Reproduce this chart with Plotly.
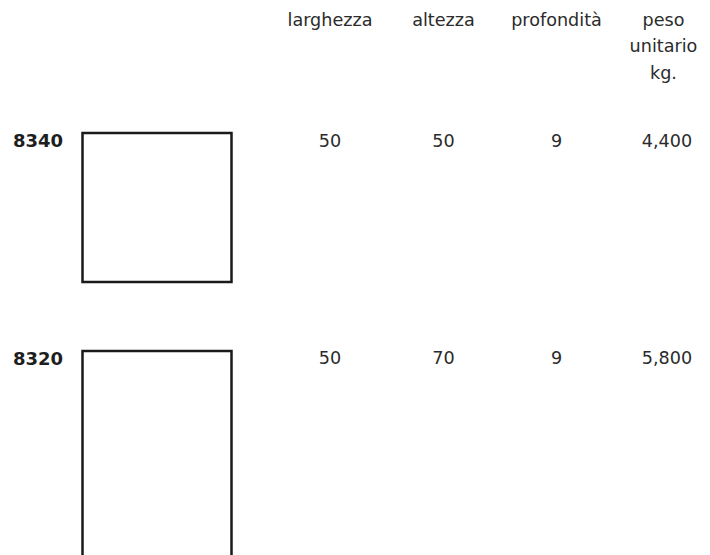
import plotly.graph_objects as go

# ---- data ----
codes = ["8340", "8320"]
larghezza = [50, 50]
altezza = [50, 70]
profondita = [9, 9]
peso_kg = [4.4, 5.8]
headers = ["larghezza", "altezza", "profondità", "peso unitario kg."]

# ---- layout constants (pixels) ----
W, H = 710, 555
BODY = 8  # default page margin of the html body
COL_X = [330, 443.5, 556.5, 667]
HEAD_X = [330, 443.5, 556.5, 663.5]
HEAD_Y0 = 21.5
HEAD_DY = 26.5
ROW_Y = [142.5, 360]
LABEL_X = 38
RECT_X0 = 82.5
RECT_TOP = [133, 351]
SCALE = 2.98  # px per cm
TXT = "#2b2b2b"
FONT = "DejaVu Sans"

fig = go.Figure()

# header texts (multi-word last header stacked on lines)
hx, hy, ht = [], [], []
for i, h in enumerate(headers):
    lines = [h] if i < 3 else h.split(" ")
    for j, ln in enumerate(lines):
        hx.append(HEAD_X[i])
        hy.append(HEAD_Y0 + j * HEAD_DY)
        ht.append(ln)
fig.add_trace(go.Scatter(x=hx, y=hy, text=ht, mode="text",
                         textposition="middle center",
                         textfont=dict(family=FONT, size=17.6, color=TXT),
                         hoverinfo="skip", showlegend=False))

# value texts
def fmt_peso(v):
    return f"{v:.3f}".replace(".", ",")

vx, vy, vt = [], [], []
for r in range(len(codes)):
    vals = [str(larghezza[r]), str(altezza[r]), str(profondita[r]), fmt_peso(peso_kg[r])]
    for c, v in enumerate(vals):
        vx.append(COL_X[c])
        vy.append(ROW_Y[r])
        vt.append(v)
fig.add_trace(go.Scatter(x=vx, y=vy, text=vt, mode="text",
                         textposition="middle center",
                         textfont=dict(family=FONT, size=17.6, color=TXT),
                         hoverinfo="skip", showlegend=False))

# code labels
fig.add_trace(go.Scatter(x=[LABEL_X] * len(codes), y=ROW_Y[:len(codes)], text=codes,
                         mode="text", textposition="middle center",
                         textfont=dict(family=FONT, size=18, color="#1e1e1e", weight="bold"),
                         hoverinfo="skip", showlegend=False))

# rectangles drawn to scale
for r in range(len(codes)):
    fig.add_shape(type="rect", xref="x", yref="y",
                  x0=RECT_X0, x1=RECT_X0 + larghezza[r] * SCALE,
                  y0=RECT_TOP[r], y1=RECT_TOP[r] + altezza[r] * SCALE,
                  line=dict(color="#1a1a1a", width=2.5),
                  fillcolor="rgba(0,0,0,0)")

fig.update_layout(
    width=W, height=H, autosize=False,
    margin=dict(l=0, r=0, t=0, b=0),
    paper_bgcolor="white", plot_bgcolor="white",
    xaxis=dict(range=[BODY, W + BODY], visible=False, fixedrange=True),
    yaxis=dict(range=[H + BODY, BODY], visible=False, fixedrange=True),
    showlegend=False,
)

fig.write_html("out.html", config={"displayModeBar": False})
